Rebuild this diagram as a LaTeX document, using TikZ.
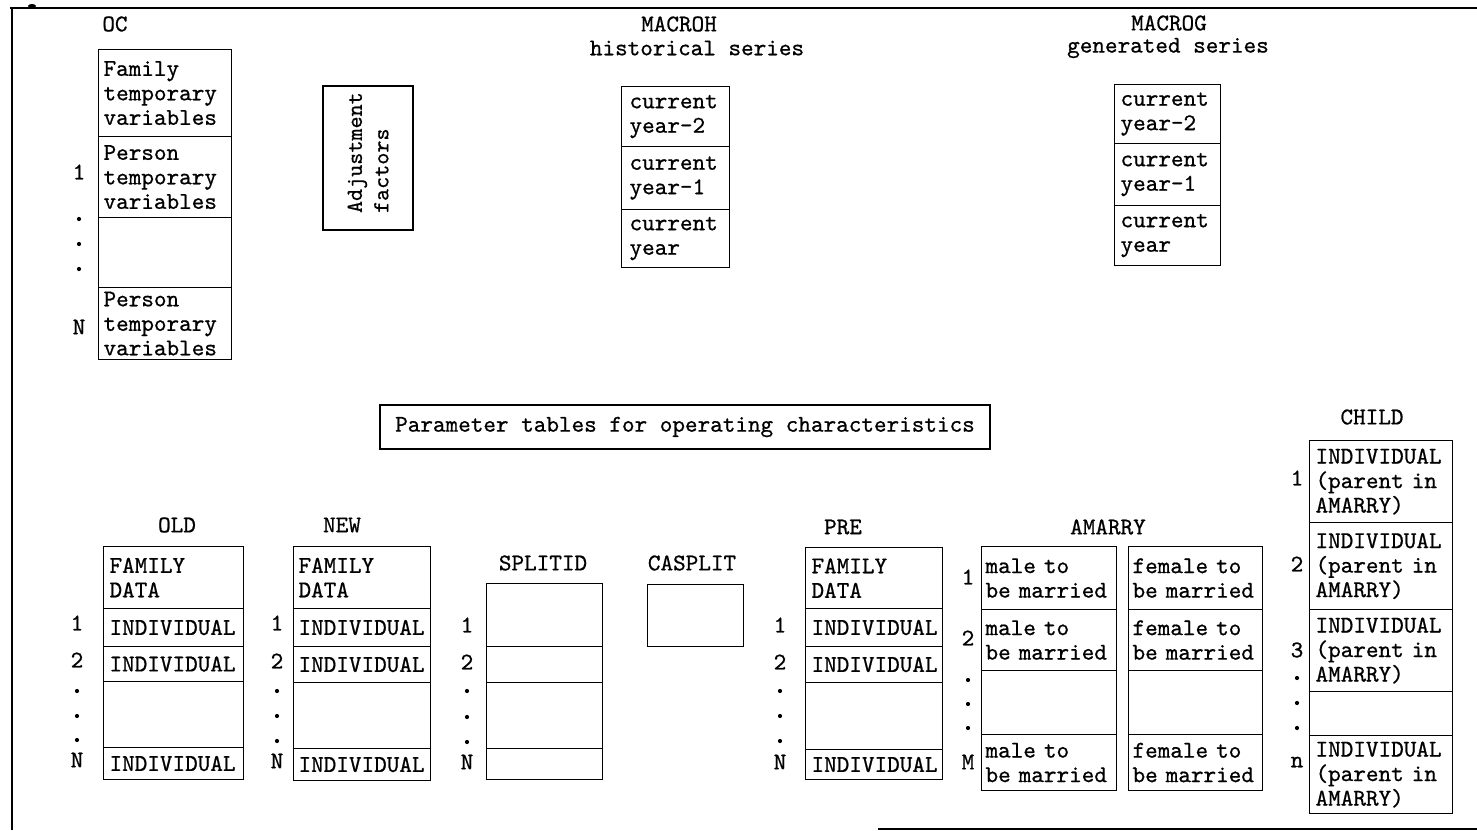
\documentclass[tikz,border=0pt]{standalone}
\usepackage{fontspec}
\newfontfamily\tabmono{lmmono10-regular.otf}[FakeBold=0.7]
\newcommand\tabfont{\fontsize{24}{24.5}\selectfont\tabmono}
\begin{document}
\begin{tikzpicture}[x=1pt,y=-1pt,
  cell/.style={draw, line width=1.1pt, anchor=north west, inner ysep=0pt, align=left, font=\tabfont},
  lbl/.style={font=\tabfont, inner sep=0pt},
  head/.style={font=\tabfont, inner sep=0pt},
  dot/.style={circle, fill, inner sep=0pt, minimum size=4.2pt},
  ocrow/.style={cell, minimum width=133pt, text width=123pt, inner xsep=5pt},
  mhrow/.style={cell, minimum width=108pt, text width=92pt, inner xsep=8pt},
  mgrow/.style={cell, minimum width=106pt, text width=94pt, inner xsep=6pt},
  oldrow/.style={cell, minimum width=140pt, text width=128pt, inner xsep=6pt},
  newrow/.style={cell, minimum width=137pt, text width=127pt, inner xsep=5pt},
  prerow/.style={cell, minimum width=137pt, text width=125pt, inner xsep=6pt},
  sprow/.style={cell, minimum width=116pt, text width=104pt, inner xsep=6pt},
  malerow/.style={cell, minimum width=135pt, text width=127pt, inner xsep=4pt},
  femrow/.style={cell, minimum width=134pt, text width=126pt, inner xsep=4pt},
  chrow/.style={cell, minimum width=143pt, text width=131pt, inner xsep=6pt}]
\useasboundingbox (0,0) rectangle (1477,830);

% page frame
\draw[line width=2pt] (10,8) -- (1477,8);
\fill (32,6) ellipse (4 and 2);
\draw[line width=1.5pt] (12,8) -- (12,830);
\draw[line width=1.5pt] (878,829) -- (1477,829);

% ---------------- OC ----------------
\node[head] (ochead) at (115,24) {OC};
\node[ocrow, minimum height=87pt] (oc1) at (98,49) {Family\\temporary\\variables};
\node[ocrow, minimum height=81pt] (oc2) at (98,136) {Person\\temporary\\variables};
\node[ocrow, minimum height=70pt] (oc3) at (98,217) {};
\node[ocrow, minimum height=72pt] (oc4) at (98,287) {Person\\temporary\\variables};
\node[lbl] (ocl1) at (79,172) {1};
\node[lbl] (oclN) at (79,327) {N};
\foreach \y [count=\i] in {219,244,269} \node[dot] (ocd\i) at (79,\y) {};

% ---------------- Adjustment factors ----------------
\node[draw, line width=1.1pt, rotate=90, minimum width=144pt, minimum height=90pt,
      text width=110pt, inner xsep=17pt, inner ysep=0pt, align=left,
      font=\fontsize{23}{26.5}\selectfont\tabmono]
      (adj) at (368,158) {Adjustment\\factors};

% ---------------- MACROH ----------------
\node[head] (mhhead1) at (679,24) {MACROH};
\node[head] (mhhead2) at (697,48) {historical series};
\node[mhrow, minimum height=60pt] (mh1) at (621,86) {current\\year-2};
\node[mhrow, minimum height=63pt] (mh2) at (621,146) {current\\year-1};
\node[mhrow, minimum height=58pt] (mh3) at (621,209) {current\\year};

% ---------------- MACROG ----------------
\node[head] (mghead1) at (1169,23) {MACROG};
\node[head] (mghead2) at (1168,48) {generated series};
\node[mgrow, minimum height=59pt] (mg1) at (1114,84) {current\\year-2};
\node[mgrow, minimum height=62pt] (mg2) at (1114,143) {current\\year-1};
\node[mgrow, minimum height=60pt] (mg3) at (1114,205) {current\\year};

% ---------------- parameter tables ----------------
\node[draw, line width=1.1pt, minimum width=610pt, minimum height=44pt, font=\tabfont]
      (param) at (685,427) {Parameter tables for operating characteristics};

% ---------------- OLD ----------------
\node[head] (oldhead) at (177,525) {OLD};
\node[oldrow, minimum height=62pt] (old1) at (103,546) {FAMILY\\DATA};
\node[oldrow, minimum height=38pt] (old2) at (103,608) {INDIVIDUAL};
\node[oldrow, minimum height=35pt] (old3) at (103,646) {INDIVIDUAL};
\node[oldrow, minimum height=66pt] (old4) at (103,681) {};
\node[oldrow, minimum height=32pt] (old5) at (103,747) {INDIVIDUAL};
\node[lbl] (oldl1) at (77,623) {1};
\node[lbl] (oldl2) at (77,660) {2};
\node[lbl] (oldlN) at (77,760) {N};
\foreach \y [count=\i] in {691,716,740} \node[dot] (oldd\i) at (77,\y) {};

% ---------------- NEW ----------------
\node[head] (newhead) at (342,525) {NEW};
\node[newrow, minimum height=62pt] (new1) at (293,546) {FAMILY\\DATA};
\node[newrow, minimum height=38pt] (new2) at (293,608) {INDIVIDUAL};
\node[newrow, minimum height=36pt] (new3) at (293,646) {INDIVIDUAL};
\node[newrow, minimum height=66pt] (new4) at (293,682) {};
\node[newrow, minimum height=32pt] (new5) at (293,748) {INDIVIDUAL};
\node[lbl] (newl1) at (277,623) {1};
\node[lbl] (newl2) at (277,661) {2};
\node[lbl] (newlN) at (277,761) {N};
\foreach \y [count=\i] in {691,716,741} \node[dot] (newd\i) at (277,\y) {};

% ---------------- SPLITID ----------------
\node[head] (sphead) at (543,563) {SPLITID};
\node[sprow, minimum height=63pt] (sp1) at (486,583) {};
\node[sprow, minimum height=36pt] (sp2) at (486,646) {};
\node[sprow, minimum height=66pt] (sp3) at (486,682) {};
\node[sprow, minimum height=31pt] (sp4) at (486,748) {};
\node[lbl] (spl1) at (467,625) {1};
\node[lbl] (spl2) at (467,662) {2};
\node[lbl] (splN) at (467,762) {N};
\foreach \y [count=\i] in {691,717,742} \node[dot] (spd\i) at (467,\y) {};

% ---------------- CASPLIT ----------------
\node[head] (cshead) at (692,563) {CASPLIT};
\node[cell, minimum width=96pt, minimum height=62pt] (cs) at (647,584) {};

% ---------------- PRE ----------------
\node[head] (prehead) at (843,527) {PRE};
\node[prerow, minimum height=61pt] (pre1) at (805,547) {FAMILY\\DATA};
\node[prerow, minimum height=38pt] (pre2) at (805,608) {INDIVIDUAL};
\node[prerow, minimum height=36pt] (pre3) at (805,646) {INDIVIDUAL};
\node[prerow, minimum height=67pt] (pre4) at (805,682) {};
\node[prerow, minimum height=30pt] (pre5) at (805,749) {INDIVIDUAL};
\node[lbl] (prel1) at (780,625) {1};
\node[lbl] (prel2) at (780,662) {2};
\node[lbl] (prelN) at (780,762) {N};
\foreach \y [count=\i] in {691,716,741} \node[dot] (pred\i) at (780,\y) {};

% ---------------- AMARRY ----------------
\node[head] (amhead) at (1108,527) {AMARRY};
\node[malerow, minimum height=63pt] (am1) at (981,546) {male to\\be married};
\node[malerow, minimum height=61pt] (am2) at (981,609) {male to\\be married};
\node[malerow, minimum height=64pt] (am3) at (981,670) {};
\node[malerow, minimum height=56pt] (am4) at (981,734) {male to\\be married};
\node[femrow, minimum height=63pt] (af1) at (1128,546) {female to\\be married};
\node[femrow, minimum height=61pt] (af2) at (1128,609) {female to\\be married};
\node[femrow, minimum height=64pt] (af3) at (1128,670) {};
\node[femrow, minimum height=56pt] (af4) at (1128,734) {female to\\be married};
\node[lbl] (aml1) at (968,577) {1};
\node[lbl] (aml2) at (968,638) {2};
\node[lbl] (amlM) at (968,762) {M};
\foreach \y [count=\i] in {680,704,728} \node[dot] (amd\i) at (968,\y) {};

% ---------------- CHILD ----------------
\node[head] (chhead) at (1372,417) {CHILD};
\node[chrow, minimum height=82pt] (ch1) at (1309,440) {INDIVIDUAL\\(parent in\\AMARRY)};
\node[chrow, minimum height=87pt] (ch2) at (1309,522) {INDIVIDUAL\\(parent in\\AMARRY)};
\node[chrow, minimum height=82pt] (ch3) at (1309,609) {INDIVIDUAL\\(parent in\\AMARRY)};
\node[chrow, minimum height=44pt] (ch4) at (1309,691) {};
\node[chrow, minimum height=78pt] (ch5) at (1309,735) {INDIVIDUAL\\(parent in\\AMARRY)};
\node[lbl] (chl1) at (1297,478) {1};
\node[lbl] (chl2) at (1297,564) {2};
\node[lbl] (chl3) at (1297,650) {3};
\node[lbl] (chln) at (1297,762) {n};
\foreach \y [count=\i] in {678,703,728} \node[dot] (chd\i) at (1297,\y) {};
\end{tikzpicture}
\end{document}
